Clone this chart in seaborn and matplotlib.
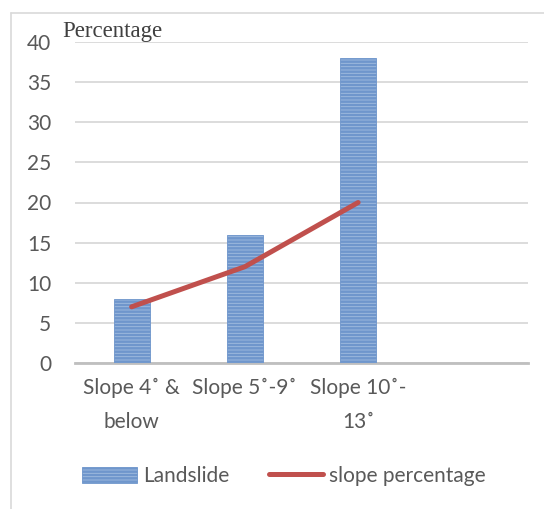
import matplotlib
matplotlib.use("Agg")
import matplotlib.pyplot as plt
import seaborn as sns
from matplotlib.patches import Patch
from matplotlib.lines import Line2D

categories = ["Slope 4\u02da &\nbelow", "Slope 5\u02da-9\u02da", "Slope 10\u02da-\n13\u02da"]
landslide = [8, 16, 38]
slope_pct = [7, 12, 20]
y_ticks = [0, 5, 10, 15, 20, 25, 30, 35, 40]

sns.set_theme(style="white")
plt.rcParams['font.family'] = ['Lato', 'DejaVu Sans']
plt.rcParams['hatch.color'] = '#4a7ebb'
plt.rcParams['hatch.linewidth'] = 1.8

fig = plt.figure(figsize=(5.44, 5.09), dpi=100)
ax = fig.add_axes([75/544, 1-363/509, (528-75)/544, (363-42)/509])

line_red = '#c0504d'
bar_face = '#a3bde0'
bar_edge = '#6f96cc'
fs = 15

sns.barplot(x=categories, y=landslide, ax=ax, width=0.32, color=bar_face,
            saturation=1, edgecolor=bar_edge, linewidth=0.6, hatch='-----', zorder=3)
sns.pointplot(x=categories, y=slope_pct, ax=ax, color=line_red, marker='',
              linewidth=3.6, zorder=4)

ax.set_xlim(-0.5, 3.5)
ax.set_ylim(0, 40)
ax.set_yticks(y_ticks)
ax.yaxis.grid(True, color='#d9d9d9', linewidth=1.3, zorder=0)
ax.set_axisbelow(True)
for s in ['top', 'right', 'left']:
    ax.spines[s].set_visible(False)
ax.spines['bottom'].set_color('#bfbfbf')
ax.spines['bottom'].set_linewidth(2)
ax.set_xlabel('')
ax.set_ylabel('')
ax.tick_params(axis='y', length=0, pad=17, labelsize=fs, labelcolor='#595959')
ax.tick_params(axis='x', length=0, pad=11, labelsize=fs, labelcolor='#595959')
for lbl in ax.get_xticklabels():
    lbl.set_linespacing(1.85)

fig.text(62/544, 1-31/509, 'Percentage', family=['Liberation Serif'], fontsize=16.5,
         color='#404040', va='center', ha='left')

handles = [Patch(facecolor=bar_face, edgecolor=bar_edge, hatch='-----', linewidth=0.6),
           Line2D([0], [0], color=line_red, linewidth=3.6, solid_capstyle='round')]
fig.legend(handles, ['Landslide', 'slope percentage'], loc='center',
           bbox_to_anchor=(284/544, 1-476/509), ncol=2, frameon=False,
           fontsize=fs, labelcolor='#595959', handlelength=2.6, handletextpad=0.3,
           columnspacing=1.9, handleheight=0.8)

# outer frame (left and top edges)
fig.add_artist(Line2D([11/544, 11/544], [0, 1-13/509], transform=fig.transFigure,
                      color='#d9d9d9', linewidth=1.2))
fig.add_artist(Line2D([11/544, 1], [1-13/509, 1-13/509], transform=fig.transFigure,
                      color='#d9d9d9', linewidth=1.2))

fig.savefig('out.png', dpi=100)
